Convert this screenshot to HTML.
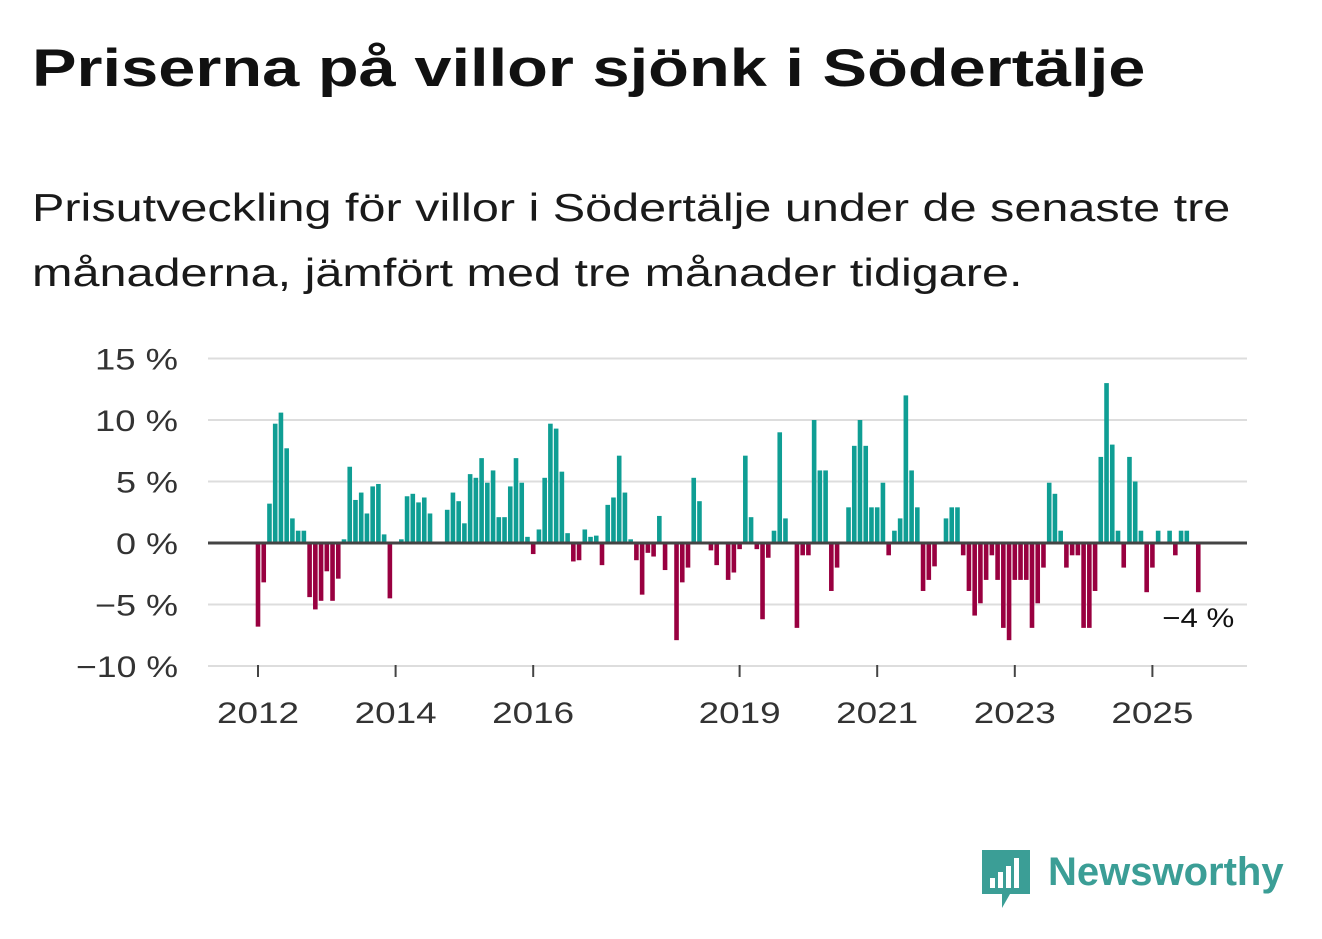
<!DOCTYPE html>
<html><head><meta charset="utf-8"><style>
body{margin:0;width:1322px;height:939px;background:#fff;font-family:"Liberation Sans",sans-serif;overflow:hidden;position:relative;color:#111}
h1{position:absolute;left:32px;top:38px;margin:0;font-size:53px;font-weight:bold;transform:scaleX(1.26);transform-origin:left top;white-space:nowrap}
p{position:absolute;left:32px;top:176px;margin:0;font-size:39px;line-height:65px;color:#1a1a1a;transform:scaleX(1.245);transform-origin:left top;white-space:nowrap}
svg{position:absolute;left:0;top:0}
</style></head><body>
<h1>Priserna på villor sjönk i Södertälje</h1>
<p>Prisutveckling för villor i Södertälje under de senaste tre<br>månaderna, jämfört med tre månader tidigare.</p>
<svg id="c" width="1322" height="939"></svg>
<div style="position:absolute;left:982px;top:850px;">
<svg width="48" height="58" style="position:absolute;left:0;top:0"><path d="M0 0H48V44H28L20 58V44H0Z" fill="#3b9e96"/><rect x="8" y="28" width="5" height="10" fill="#fff"/><rect x="16" y="22" width="5" height="16" fill="#fff"/><rect x="24" y="16" width="5" height="22" fill="#fff"/><rect x="32" y="8" width="5" height="30" fill="#fff"/></svg>
<span style="position:absolute;left:66px;top:0px;font-size:40px;font-weight:bold;color:#3b9e96;white-space:nowrap">Newsworthy</span></div>
<script>
const startYear=2012;
const values=[-6.8,-3.2,3.2,9.7,10.6,7.7,2.0,1.0,1.0,-4.4,-5.4,-4.7,
-2.3,-4.7,-2.9,0.3,6.2,3.5,4.1,2.4,4.6,4.8,0.7,-4.5,
0,0.3,3.8,4.0,3.3,3.7,2.4,0.1,0,2.7,4.1,3.4,
1.6,5.6,5.3,6.9,4.9,5.9,2.1,2.1,4.6,6.9,4.9,0.5,
-0.9,1.1,5.3,9.7,9.3,5.8,0.8,-1.5,-1.4,1.1,0.5,0.6,
-1.8,3.1,3.7,7.1,4.1,0.3,-1.4,-4.2,-0.8,-1.1,2.2,-2.2,
0,-7.9,-3.2,-2.0,5.3,3.4,0.1,-0.6,-1.8,0,-3.0,-2.4,
-0.5,7.1,2.1,-0.5,-6.2,-1.2,1.0,9.0,2.0,0,-6.9,-1.0,
-1.0,10.0,5.9,5.9,-3.9,-2.0,0,2.9,7.9,10.0,7.9,2.9,
2.9,4.9,-1.0,1.0,2.0,12.0,5.9,2.9,-3.9,-3.0,-1.9,0,
2.0,2.9,2.9,-1.0,-3.9,-5.9,-4.9,-3.0,-1.0,-3.0,-6.9,-7.9,
-3.0,-3.0,-3.0,-6.9,-4.9,-2.0,4.9,4.0,1.0,-2.0,-1.0,-1.0,
-6.9,-6.9,-3.9,7.0,13.0,8.0,1.0,-2.0,7.0,5.0,1.0,-4.0,
-2.0,1.0,0,1.0,-1.0,1.0,1.0,0,-4.0];
const yTicks=[15,10,5,0,-5,-10];
const xTickYears=[2012,2014,2016,2019,2021,2023,2025];
const lastLabel="−4 %";
const NS="http://www.w3.org/2000/svg",svg=document.getElementById('c');
const y=v=>543-v*12.3;
const x=i=>258+i*(68.8/12);
function mk(t,a){const e=document.createElementNS(NS,t);for(const k in a)e.setAttribute(k,a[k]);svg.appendChild(e);return e;}
yTicks.forEach(v=>{
 if(v!==0){const g=mk('line',{x1:208,x2:1247,y1:y(v),y2:y(v),stroke:'#ddd','stroke-width':2});
 
 }
 const t=mk('text',{x:178,y:y(v)+11,'text-anchor':'end','font-size':30,fill:'#333','font-family':'Liberation Sans','textLength':(v<0?(v<=-10?102:83):(v>=10?83:62)),'lengthAdjust':'spacingAndGlyphs'});
 t.textContent=(v<0?'−'+(-v):v)+' %';
 
 
});
xTickYears.forEach(yr=>{
 const xx=x((yr-startYear)*12);
 const l=mk('line',{x1:xx,x2:xx,y1:665,y2:677,stroke:'#444','stroke-width':2});
 
 
 const t=mk('text',{x:xx,y:723,'text-anchor':'middle','font-size':30,fill:'#333','font-family':'Liberation Sans','textLength':82,'lengthAdjust':'spacingAndGlyphs'});
 t.textContent=yr;
 
 
});
values.forEach((v,i)=>{
 if(v===0)return;
 const r=mk('rect',{x:x(i)-2.3,width:4.6,y:Math.min(y(v),y(0)),height:Math.abs(y(v)-y(0)),fill:v>0?'#0f9e94':'#990040'});
 
 
});
const z=mk('line',{x1:208,x2:1247,y1:y(0),y2:y(0),stroke:'#444','stroke-width':3});


const last=values.length-1;
const lt=mk('text',{x:x(last)+36,y:y(values[last])+35,'text-anchor':'end','font-size':27,fill:'#111','font-family':'Liberation Sans','textLength':72,'lengthAdjust':'spacingAndGlyphs'});
lt.textContent=lastLabel;


</script>
</body></html>
